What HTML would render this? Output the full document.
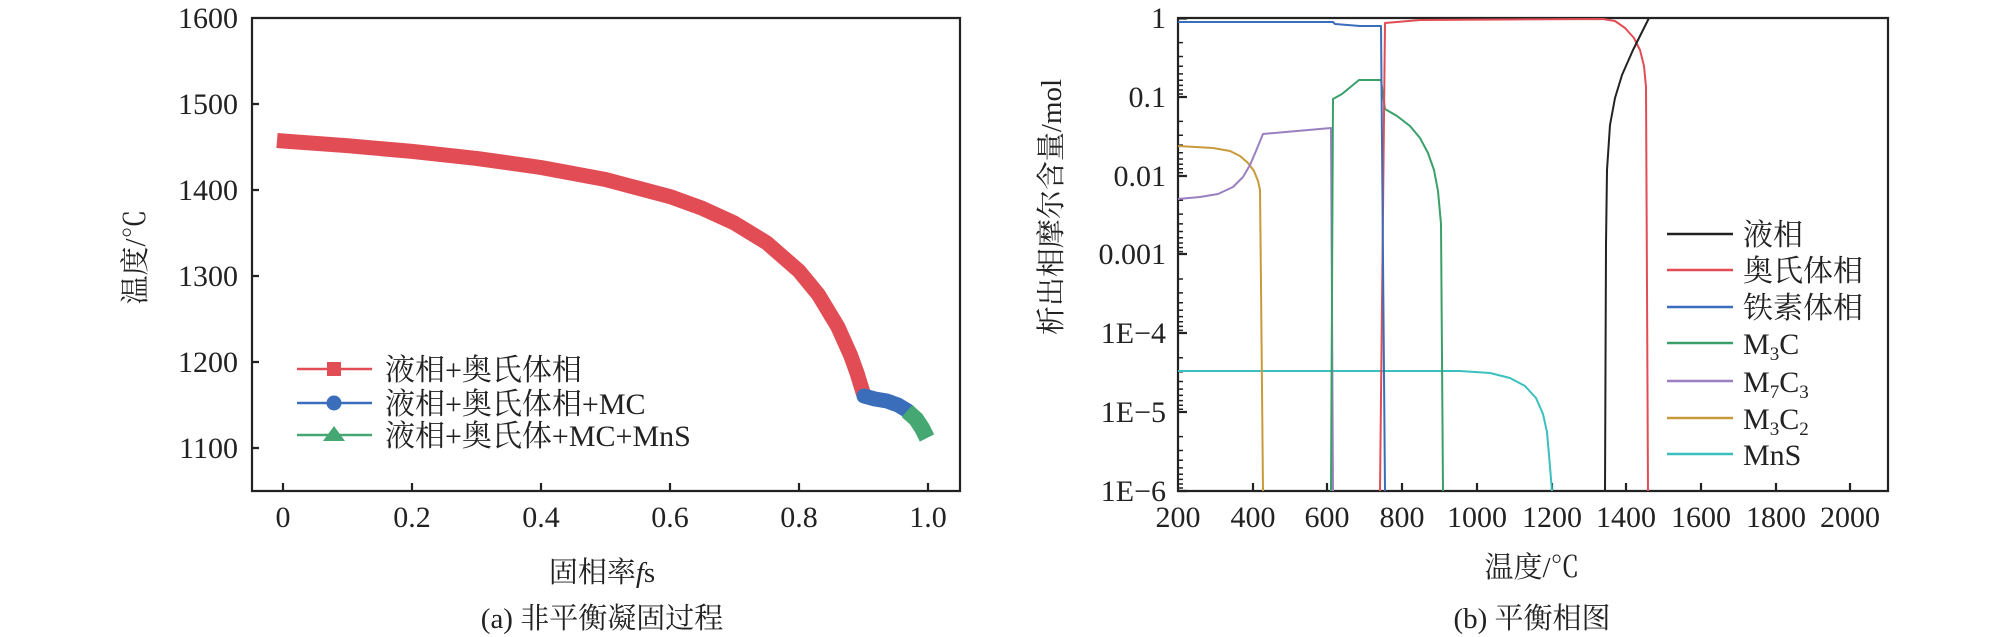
<!DOCTYPE html>
<html><head><meta charset="utf-8"><style>
body{margin:0;background:#fff}
svg{display:block}
text{font-family:"Liberation Serif","Noto Serif CJK SC","Noto Sans CJK SC",serif;fill:#222}
</style></head><body>
<svg width="2008" height="637" viewBox="0 0 2008 637" xmlns="http://www.w3.org/2000/svg">
<!-- LEFT PLOT -->
<g stroke="#222" stroke-width="2.2" fill="none">
<path d="M252,18 H960 V491 H252 Z"/>
<path d="M252,104 h7 M252,190 h7 M252,276 h7 M252,362 h7 M252,448 h7"/>
<path d="M283,491 v-8 M412,491 v-8 M541,491 v-8 M670,491 v-8 M799,491 v-8 M928,491 v-8"/>
</g>
<g font-size="30" text-anchor="end">
<text x="238" y="28">1600</text><text x="238" y="114">1500</text><text x="238" y="200">1400</text>
<text x="238" y="286">1300</text><text x="238" y="372">1200</text><text x="238" y="458">1100</text>
</g>
<g font-size="30" text-anchor="middle">
<text x="283" y="527">0</text><text x="412" y="527">0.2</text><text x="541" y="527">0.4</text>
<text x="670" y="527">0.6</text><text x="799" y="527">0.8</text><text x="928" y="527">1.0</text>
</g>
<text transform="translate(145,257) rotate(-90)" font-size="29" text-anchor="middle">温度/℃</text>
<text x="602" y="582" font-size="29" text-anchor="middle">固相率<tspan font-style="italic">f</tspan>s</text>
<text x="602" y="628" font-size="29" text-anchor="middle">(a) 非平衡凝固过程</text>
<path d="M277,140.5 L283,141 L347.5,145.7 L412,151.4 L476.5,158.4 L541,167.5 L605.5,179.5 L670,196.6 L702,208.2 L734.5,223.1 L766.8,242.9 L799,271 L818.4,294.6 L837.7,326.6 L850.6,355.3 L857,373 L863.5,394" stroke="#e24d55" stroke-width="15" fill="none" stroke-linejoin="round"/>
<path d="M864,396 L875,399 L887,401 L898,405 L908,411" stroke="#3a6dba" stroke-width="15" fill="none" stroke-linecap="round" stroke-linejoin="round"/>
<path d="M907,411 L916,419 L922,428 L927,438" stroke="#45a872" stroke-width="16" fill="none" stroke-linejoin="round"/>
<!-- legend left -->
<g stroke-width="2.5">
<line x1="297" y1="369" x2="372" y2="369" stroke="#e24d55"/>
<line x1="297" y1="403" x2="372" y2="403" stroke="#3a6dba"/>
<line x1="297" y1="435" x2="372" y2="435" stroke="#45a872"/>
</g>
<rect x="327" y="362" width="14" height="14" fill="#e24d55"/>
<circle cx="334" cy="403" r="7.5" fill="#3a6dba"/>
<polygon points="334,426 345,441 323,441" fill="#45a872"/>
<g font-size="30">
<text x="385" y="380">液相+奥氏体相</text>
<text x="385" y="414">液相+奥氏体相+MC</text>
<text x="385" y="446">液相+奥氏体+MC+MnS</text>
</g>

<!-- RIGHT PLOT -->
<g stroke="#222" stroke-width="2.2" fill="none">
<path d="M1178,18 H1888 V491 H1178 Z"/>
<path d="M1178,18.5 h9 M1178,97 h9 M1178,176 h9 M1178,254 h9 M1178,333 h9 M1178,412 h9 M1178,491 h9"/>
<path d="M1253,491 v-8 M1327,491 v-8 M1402,491 v-8 M1477,491 v-8 M1552,491 v-8 M1626,491 v-8 M1701,491 v-8 M1776,491 v-8 M1850,491 v-8"/>
</g>
<g stroke="#222" stroke-width="1.5">
<path id="dec" d="M1178,42.6 h5 M1178,56.5 h5 M1178,66.3 h5 M1178,73.9 h5 M1178,80.2 h5 M1178,85.4 h5 M1178,90.0 h5 M1178,94.0 h5"/>
<use href="#dec" y="78.8"/><use href="#dec" y="157.6"/><use href="#dec" y="236.4"/><use href="#dec" y="315.2"/><use href="#dec" y="394"/>
</g>
<g font-size="30" text-anchor="end">
<text x="1166" y="28">1</text><text x="1166" y="107">0.1</text><text x="1166" y="186">0.01</text>
<text x="1166" y="264">0.001</text><text x="1166" y="343">1E−4</text><text x="1166" y="422">1E−5</text><text x="1166" y="501">1E−6</text>
</g>
<g font-size="30" text-anchor="middle">
<text x="1178" y="527">200</text><text x="1253" y="527">400</text><text x="1327" y="527">600</text><text x="1402" y="527">800</text>
<text x="1477" y="527">1000</text><text x="1552" y="527">1200</text><text x="1626" y="527">1400</text><text x="1701" y="527">1600</text>
<text x="1776" y="527">1800</text><text x="1850" y="527">2000</text>
</g>
<text transform="translate(1061,207) rotate(-90)" font-size="29" text-anchor="middle">析出相摩尔含量/mol</text>
<text x="1532" y="577" font-size="29" text-anchor="middle">温度/℃</text>
<text x="1532" y="628" font-size="29" text-anchor="middle">(b) 平衡相图</text>
<g fill="none" stroke-width="2" stroke-linejoin="round">
<polyline stroke="#3bbfbf" points="1178,371 1460,371 1490,373 1510,378 1525,386 1536,398 1543,414 1547,432 1549,455 1552,491"/>
<polyline stroke="#c89a3c" points="1178,146 1213,148 1230,151 1240,156 1248,163 1254,171 1258,181 1260,190 1261,285 1263,491"/>
<polyline stroke="#9a7fc1" points="1178,199 1200,197 1218,194 1233,187 1243,177 1250,165 1256,151 1263,134 1331,128 1333,491"/>
<polyline stroke="#3aa06a" points="1331,491 1333,99 1342,94 1359,80 1381,80 1385,109 1397,116 1410,126 1420,138 1428,153 1434,170 1438,191 1441,224 1443,491"/>
<polyline stroke="#e24d55" points="1380,491 1385,23 1420,20 1603,19 1615,21 1625,28 1634,38 1640,50 1644,66 1646,87 1648,491"/>
<polyline stroke="#3a6dba" points="1178,22 1333,22 1335,24 1360,26 1381,26 1385,491"/>
<polyline stroke="#222" points="1605,491 1606,244 1607,170 1610,125 1615,98 1622,75 1633,50 1649,18 1702,18"/>
</g>
<g stroke-width="2.5">
<line x1="1667" y1="234" x2="1733" y2="234" stroke="#222"/>
<line x1="1667" y1="270" x2="1733" y2="270" stroke="#e24d55"/>
<line x1="1667" y1="307" x2="1733" y2="307" stroke="#3a6dba"/>
<line x1="1667" y1="343" x2="1733" y2="343" stroke="#3aa06a"/>
<line x1="1667" y1="381" x2="1733" y2="381" stroke="#9a7fc1"/>
<line x1="1667" y1="418" x2="1733" y2="418" stroke="#c89a3c"/>
<line x1="1667" y1="454" x2="1733" y2="454" stroke="#3bbfbf"/>
</g>
<g font-size="30">
<text x="1743" y="245">液相</text>
<text x="1743" y="281">奥氏体相</text>
<text x="1743" y="318">铁素体相</text>
<text x="1743" y="354">M<tspan font-size="19" dy="6">3</tspan><tspan dy="-6">C</tspan></text>
<text x="1743" y="392">M<tspan font-size="19" dy="6">7</tspan><tspan dy="-6">C</tspan><tspan font-size="19" dy="6">3</tspan></text>
<text x="1743" y="429">M<tspan font-size="19" dy="6">3</tspan><tspan dy="-6">C</tspan><tspan font-size="19" dy="6">2</tspan></text>
<text x="1743" y="465">MnS</text>
</g>
</svg>
</body></html>
